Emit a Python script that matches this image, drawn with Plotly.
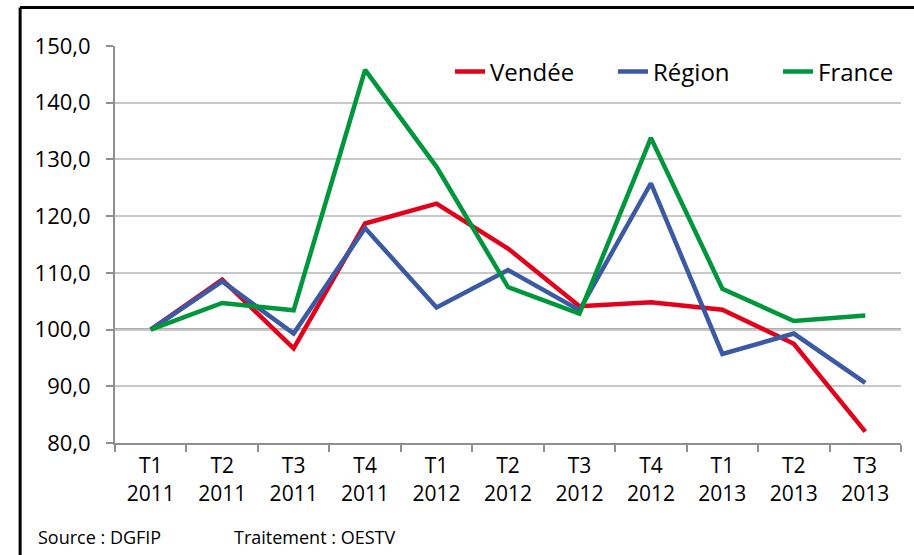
import plotly.graph_objects as go

categories = ["T1<br>2011", "T2<br>2011", "T3<br>2011", "T4<br>2011",
              "T1<br>2012", "T2<br>2012", "T3<br>2012", "T4<br>2012",
              "T1<br>2013", "T2<br>2013", "T3<br>2013"]
vendee = [100.0, 108.8, 96.7, 118.7, 122.2, 114.3, 104.1, 104.8, 103.5, 97.5, 82.0]
region = [100.0, 108.5, 99.3, 117.9, 103.9, 110.5, 103.4, 125.8, 95.7, 99.3, 90.6]
france = [100.0, 104.7, 103.4, 145.8, 128.7, 107.5, 102.8, 133.8, 107.2, 101.5, 102.5]
y_ticks = [80, 90, 100, 110, 120, 130, 140, 150]

FONT = "Open Sans"
fig = go.Figure()
for name, vals, col, lw in [("Vendée", vendee, "#E3001B", 118),
                            ("Région", region, "#3B5AA3", 120),
                            ("France", france, "#00963C", 80)]:
    fig.add_trace(go.Scatter(x=categories, y=vals, mode="lines", name=name,
                             legendwidth=lw,
                             line=dict(color=col, width=4.5)))

W, H = 914, 555
L, R, T, B = 115, 12, 46, 112
pw, ph = W - L - R, H - T - B
def px(x): return (x - L) / pw
def py(y): return (H - B - y) / ph

shapes = [
    dict(type="line", xref="paper", yref="y", x0=0, x1=1, y0=100, y1=100,
         line=dict(color="#8F8F8F", width=2.5), layer="below"),
    dict(type="line", xref="paper", yref="paper", x0=px(20), x1=px(916), y0=py(7.5), y1=py(7.5),
         line=dict(color="black", width=3)),
    dict(type="line", xref="paper", yref="paper", x0=px(20), x1=px(20), y0=py(7.5), y1=py(560),
         line=dict(color="black", width=3)),
]

fig.update_layout(
    width=W, height=H,
    margin=dict(l=L, r=R, t=T, b=B),
    paper_bgcolor="white", plot_bgcolor="white",
    separators=", ",
    font=dict(family=FONT, color="black"),
    showlegend=True,
    legend=dict(orientation="h", x=px(903), xanchor="right", y=py(72), yanchor="middle",
                font=dict(size=24, family=FONT), bgcolor="rgba(0,0,0,0)",
                itemwidth=30, tracegroupgap=0),
    shapes=shapes,
    annotations=[
        dict(text="Source : DGFIP", xref="paper", yref="paper", x=px(36), y=py(537),
             xanchor="left", yanchor="middle", showarrow=False, font=dict(size=18, family=FONT)),
        dict(text="Traitement : OESTV", xref="paper", yref="paper", x=px(232), y=py(537),
             xanchor="left", yanchor="middle", showarrow=False, font=dict(size=18, family=FONT)),
    ],
)
fig.update_yaxes(range=[80, 150], tickvals=y_ticks, tickformat=".1f",
                 showgrid=True, gridcolor="#C8C8C8", gridwidth=1.5,
                 showline=True, linecolor="#8F8F8F", linewidth=2,
                 ticks="outside", ticklen=7, tickcolor="#8F8F8F", tickwidth=2,
                 ticklabelstandoff=11, tickfont=dict(size=22, family=FONT), zeroline=False)
fig.update_xaxes(type="category", tickson="boundaries", showgrid=False,
                 showline=True, linecolor="#8F8F8F", linewidth=2,
                 ticks="outside", ticklen=7, tickcolor="#8F8F8F", tickwidth=2,
                 ticklabelstandoff=3,
                 tickfont=dict(size=21, family=FONT), range=[-0.5, 10.5])

fig.write_html("out.html", config={"displayModeBar": False},
               post_script="document.body.style.margin='0px';document.body.style.padding='0px';")
